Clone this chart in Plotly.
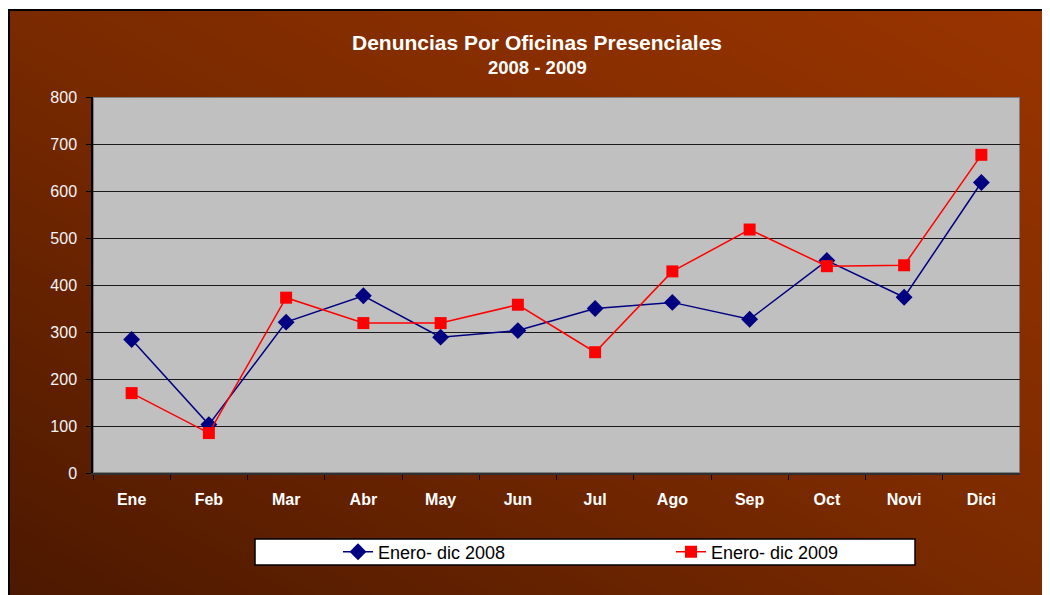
import numpy as np
import plotly.graph_objects as go

# ---- data ----
months = ["Ene", "Feb", "Mar", "Abr", "May", "Jun", "Jul", "Ago", "Sep", "Oct", "Novi", "Dici"]
serie_2008 = [284, 103, 321, 377, 289, 303, 350, 363, 327, 452, 374, 618]
serie_2009 = [170, 85, 373, 319, 319, 358, 257, 429, 518, 440, 442, 677]
name_2008 = "Enero- dic 2008"
name_2009 = "Enero- dic 2009"
y_ticks = [0, 100, 200, 300, 400, 500, 600, 700, 800]

W, H = 1050, 595
OFF = 8  # page body margin offset
FONT = "Liberation Sans, Arial, sans-serif"


def px(x):
    return (x - OFF) / W


def py(y):
    return 1 - (y - OFF) / H


fig = go.Figure()

# ---- background gradient (styling only) ----
gx = np.linspace(0, 1, 60)
gy = np.linspace(0, 1, 60)
GX, GY = np.meshgrid(gx, gy)
GZ = GX + GY
fig.add_trace(go.Heatmap(
    x=gx, y=gy, z=GZ, xaxis="x", yaxis="y",
    colorscale=[[0, "#4b1800"], [0.5, "#7a2a00"], [1, "#9a3400"]],
    showscale=False, hoverinfo="skip", zsmooth="best",
))

# ---- series ----
fig.add_trace(go.Scatter(
    x=months, y=serie_2008, name=name_2008, xaxis="x2", yaxis="y2",
    mode="lines+markers",
    line=dict(color="#000080", width=1.5),
    marker=dict(symbol="diamond", size=13, color="#000080"),
))
fig.add_trace(go.Scatter(
    x=months, y=serie_2009, name=name_2009, xaxis="x2", yaxis="y2",
    mode="lines+markers",
    line=dict(color="#FF0000", width=1.5),
    marker=dict(symbol="square", size=12, color="#FF0000"),
))

fig.update_layout(
    width=W, height=H,
    margin=dict(l=0, r=0, t=0, b=0, autoexpand=False),
    paper_bgcolor="white",
    plot_bgcolor="rgba(0,0,0,0)",
    font=dict(family=FONT, color="white"),
    showlegend=True,
    xaxis=dict(domain=[px(8), 1], range=[0, 1], visible=False, fixedrange=True, automargin=False),
    yaxis=dict(domain=[0, py(10)], range=[0, 1], visible=False, fixedrange=True, automargin=False),
    xaxis2=dict(
        domain=[px(93), px(1020)], anchor="y2", type="category",
        categoryorder="array", categoryarray=months,
        range=[-0.5, len(months) - 0.5], automargin=False,
        showgrid=False, showline=True, linecolor="#303030", linewidth=2,
        ticks="outside", tickson="boundaries", ticklen=5, tickcolor="black",
        tickfont=dict(family=FONT, size=16, color="white", weight="bold"),
        ticklabelstandoff=11,
    ),
    yaxis2=dict(
        domain=[py(473), py(97)], anchor="x2", range=[0, 800], automargin=False,
        tickvals=y_ticks, ticktext=[str(v) for v in y_ticks],
        showgrid=True, gridcolor="#1a1a1a", gridwidth=1,
        showline=True, linecolor="black", linewidth=1.5,
        ticks="outside", ticklen=5, tickcolor="black",
        tickfont=dict(family=FONT, size=16, color="#f4f4f4"),
        ticklabelstandoff=6, zeroline=False,
    ),
    legend=dict(
        orientation="h", x=px(338), xanchor="left", y=py(552), yanchor="middle",
        bgcolor="rgba(0,0,0,0)", borderwidth=0,
        font=dict(family=FONT, size=18, color="black"),
        entrywidth=288, entrywidthmode="pixels",
    ),
    shapes=[
        # plot area background
        dict(type="rect", xref="x2", yref="y2", x0=-0.5, x1=len(months) - 0.5, y0=0, y1=800,
             fillcolor="#C0C0C0", line=dict(color="#808080", width=2), layer="below"),
        # chart border
        dict(type="line", xref="paper", yref="paper", x0=px(9), x1=px(9), y0=0, y1=py(9),
             line=dict(color="black", width=2), layer="above"),
        dict(type="line", xref="paper", yref="paper", x0=px(8), x1=1, y0=py(10), y1=py(10),
             line=dict(color="black", width=2), layer="above"),
        # legend box
        dict(type="rect", xref="paper", yref="paper", x0=px(255), x1=px(915),
             y0=py(565), y1=py(539), fillcolor="white",
             line=dict(color="black", width=1.5), layer="above"),
    ],
    annotations=[
        dict(text="<b>Denuncias Por Oficinas Presenciales</b>", xref="paper", yref="paper",
             x=px(537), y=py(42), xanchor="center", yanchor="middle", showarrow=False,
             font=dict(family=FONT, size=21, color="white")),
        dict(text="<b>2008 - 2009</b>", xref="paper", yref="paper",
             x=px(537), y=py(68), xanchor="center", yanchor="middle", showarrow=False,
             font=dict(family=FONT, size=18.5, color="white")),
    ],
)

fig.write_html("out.html")
